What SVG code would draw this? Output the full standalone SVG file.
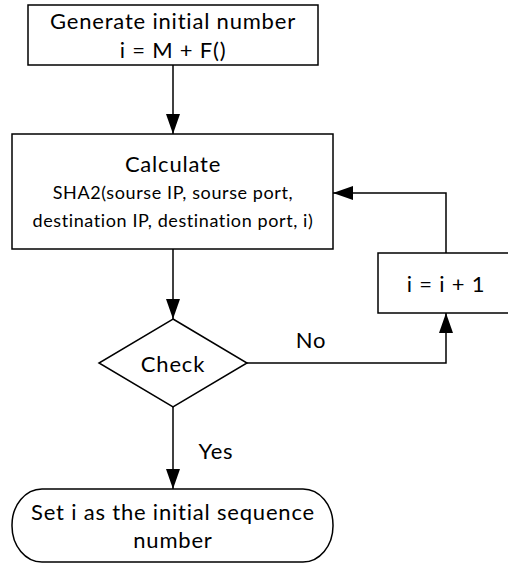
<svg xmlns="http://www.w3.org/2000/svg" width="508" height="567" viewBox="0 0 508 567">
  <style>
    .shape { fill: #ffffff; stroke: #000000; stroke-width: 1.5; }
    .edge { fill: none; stroke: #000000; stroke-width: 1.5; }
    text { font-family: Lato, "Liberation Sans", sans-serif; fill: #000000; text-anchor: middle; }
    .big { font-size: 22px; letter-spacing: 0.8px; }
    .small { font-size: 18px; letter-spacing: 0.6px; }
  </style>
  <defs>
    <marker id="arrow" markerUnits="userSpaceOnUse" markerWidth="20" markerHeight="14" refX="20" refY="7" orient="auto">
      <path d="M0,0 L20,7 L0,14 Z" fill="#000000"/>
    </marker>
  </defs>
  <rect width="508" height="567" fill="#ffffff"/>

  <!-- flow lines with their branch labels -->
  <g id="connectors">
    <path class="edge" d="M173,65 L173,134" marker-end="url(#arrow)"/>
    <path class="edge" d="M173,249 L173,319" marker-end="url(#arrow)"/>
    <path class="edge" d="M247,363 L446,363 L446,313" marker-end="url(#arrow)"/>
    <path class="edge" d="M446,253 L446,193 L333,193" marker-end="url(#arrow)"/>
    <path class="edge" d="M173,407 L173,489" marker-end="url(#arrow)"/>
    <text class="big" x="311" y="348">No</text>
    <text class="big" x="216" y="459">Yes</text>
  </g>

  <g id="generate">
    <rect class="shape" x="28" y="5" width="290" height="60"/>
    <text class="big" x="173" y="29">Generate initial number</text>
    <text class="big" x="173" y="58">i = M + F()</text>
  </g>

  <g id="calculate">
    <rect class="shape" x="12" y="134" width="321" height="115"/>
    <text class="big" x="173" y="172">Calculate</text>
    <text class="small" x="173" y="199">SHA2(sourse IP, sourse port,</text>
    <text class="small" x="173" y="227">destination IP, destination port, i)</text>
  </g>

  <!-- box runs past the right edge of the canvas -->
  <g id="increment">
    <rect class="shape" x="378" y="253" width="136" height="60"/>
    <text class="big" x="446" y="292">i = i + 1</text>
  </g>

  <g id="check">
    <polygon class="shape" points="173,319 247,363 173,407 99,363"/>
    <text class="big" x="173" y="372">Check</text>
  </g>

  <g id="result">
    <rect class="shape" x="12" y="489" width="321" height="73" rx="30" ry="36"/>
    <text class="big" x="173" y="520">Set i as the initial sequence</text>
    <text class="big" x="173" y="548">number</text>
  </g>
</svg>
